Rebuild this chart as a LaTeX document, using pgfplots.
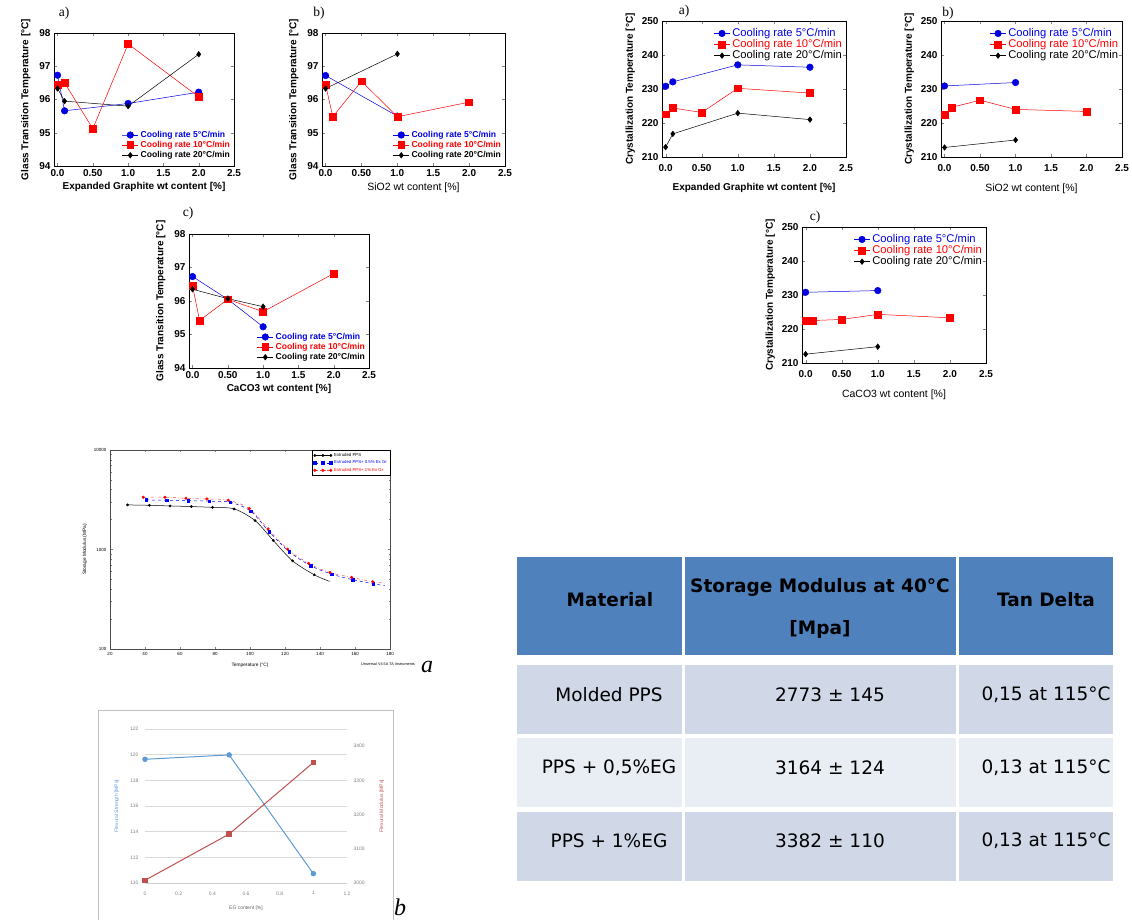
\documentclass[border=0pt]{standalone}
\usepackage{pgfplots}
\pgfplotsset{compat=1.18}
\usepackage{fontspec}
\setmainfont{Liberation Sans}
\newfontfamily\timesf{Liberation Serif}
\newfontfamily\tabf{DejaVu Sans}
\definecolor{cblue}{RGB}{0,0,225}
\definecolor{cred}{RGB}{255,0,0}
\definecolor{eblue}{RGB}{91,155,213}
\definecolor{ered}{RGB}{192,80,77}
\definecolor{hdr}{RGB}{79,129,189}
\definecolor{rowa}{RGB}{208,216,232}
\definecolor{rowb}{RGB}{233,237,244}
\pgfplotsset{
 panel/.style={anchor=south west, scale only axis, xmin=-0.05, xmax=2.5,
   xtick={0,0.5,1,1.5,2,2.5}, xticklabels={0.0,0.50,1.0,1.5,2.0,2.5},
   /pgf/number format/assume math mode=true,
   tick label style={font=\bfseries\fontsize{10}{11}\selectfont},
   label style={font=\bfseries\fontsize{10}{11}\selectfont},
   xlabel style={yshift=1pt},
   major tick length=3pt, axis line style={line width=0.5pt},
   legend cell align=left,
   legend image code/.code={\draw[##1,mark repeat=2,mark phase=2] plot coordinates {(0pt,0pt)(8pt,0pt)(16pt,0pt)};},
 },
 tg/.style={panel, ymin=94, ymax=98, ytick={94,95,96,97,98}, ylabel={Glass Transition Temperature [°C]},
   ylabel style={yshift=2pt},
   legend style={draw=none, fill=none, at={(rel axis cs:0.99,0.035)}, anchor=south east, font=\bfseries\fontsize{8.6}{9.5}\selectfont, inner sep=0pt, row sep=-1.6pt}},
 cr/.style={panel, ymin=210, ymax=250, ytick={210,220,230,240,250}, ylabel={Crystallization Temperature [°C]},
   xticklabel style={yshift=-4pt}, xlabel style={yshift=-6pt},
   legend style={draw=none, fill=none, at={(rel axis cs:0.99,0.96)}, anchor=north east, font=\fontsize{11.2}{12}\selectfont, inner sep=0pt, row sep=-2.5pt}},
 s5/.style={cblue, line width=0.5pt, mark=*, mark size=3.3pt},
 s10/.style={cred, line width=0.5pt, mark=square*, mark size=3.4pt},
 s20/.style={black, line width=0.5pt, mark=diamond*, mark size=2.8pt},
 dmaleg/.style={legend image code/.code={\draw[##1,mark repeat=2,mark phase=2] plot coordinates {(0pt,0pt)(8pt,0pt)(16pt,0pt)};}},
}
\newcommand{\tgleg}{\addlegendentry{\textcolor{cblue}{Cooling rate 5°C/min}}\addlegendentry{\textcolor{cred}{Cooling rate 10°C/min}}\addlegendentry{Cooling rate 20°C/min}}
\begin{document}
\begin{tikzpicture}[x=1pt,y=1pt]
\path[use as bounding box] (0,0) rectangle (1132,919);

% ---------- Tg a
\begin{axis}[tg, at={(54pt,753pt)}, width=180pt, height=133pt, xlabel={Expanded Graphite wt content [\%]}]
\addplot[s5] coordinates {(0,96.73)(0.1,95.66)(1,95.88)(2,96.22)};
\addplot[s10] coordinates {(0,96.45)(0.1,96.5)(0.5,95.12)(1,97.67)(2,96.08)};
\addplot[s20] coordinates {(0,96.33)(0.1,95.95)(1,95.8)(2,97.36)};
\tgleg
\end{axis}
% ---------- Tg b
\begin{axis}[tg, at={(322pt,753pt)}, width=183pt, height=133pt, xlabel={SiO2 wt content [\%]}, xlabel style={font=\fontsize{10.5}{11}\selectfont}]
\addplot[s5] coordinates {(0,96.72)(1,95.5)};
\addplot[s10] coordinates {(0,96.45)(0.1,95.48)(0.5,96.55)(1,95.48)(2,95.92)};
\addplot[s20] coordinates {(0,96.33)(1,97.37)};
\tgleg
\end{axis}
% ---------- Tg c
\begin{axis}[tg, at={(189pt,551pt)}, width=180pt, height=134pt, xlabel={CaCO3 wt content [\%]}]
\addplot[s5] coordinates {(0,96.73)(0.5,96.05)(1,95.23)};
\addplot[s10] coordinates {(0,96.45)(0.1,95.42)(0.5,96.05)(1,95.68)(2,96.82)};
\addplot[s20] coordinates {(0,96.35)(0.5,96.07)(1,95.83)};
\tgleg
\end{axis}
% ---------- Cr a
\begin{axis}[cr, at={(662pt,762pt)}, width=184pt, height=136pt, xlabel={Expanded Graphite wt content [\%]}]
\addplot[s5] coordinates {(0,230.8)(0.1,232.1)(1,237.1)(2,236.4)};
\addplot[s10] coordinates {(0,222.6)(0.1,224.4)(0.5,223.1)(1,230.2)(2,228.8)};
\addplot[s20] coordinates {(0,212.9)(0.1,216.8)(1,222.9)(2,221.0)};
\tgleg
\end{axis}
% ---------- Cr b
\begin{axis}[cr, at={(941pt,762pt)}, width=181pt, height=136pt, xlabel={SiO2 wt content [\%]}, xlabel style={font=\fontsize{10.5}{11}\selectfont}]
\addplot[s5] coordinates {(0,230.9)(1,231.9)};
\addplot[s10] coordinates {(0,222.5)(0.1,224.6)(0.5,226.7)(1,224.0)(2,223.4)};
\addplot[s20] coordinates {(0,212.8)(1,215.0)};
\tgleg
\end{axis}
% ---------- Cr c
\begin{axis}[cr, at={(802pt,556pt)}, width=184pt, height=136pt, xlabel={CaCO3 wt content [\%]}, xlabel style={font=\fontsize{10.5}{11}\selectfont}]
\addplot[s5] coordinates {(0,230.8)(1,231.3)};
\addplot[s10] coordinates {(0,222.5)(0.1,222.5)(0.5,222.8)(1,224.3)(2,223.3)};
\addplot[s20] coordinates {(0,212.6)(1,214.8)};
\tgleg
\end{axis}

\begin{scope}[every node/.style={font=\timesf\fontsize{13.5}{14}\selectfont}]
\node at (64,906) {a)};
\node at (319,906) {b)};
\node at (188,706) {c)};
\node at (684,908) {a)};
\node at (948,906) {b)};
\node at (815,702) {c)};
\end{scope}

% ---------- DMA
\begin{axis}[dmaleg, anchor=south west, at={(110pt,270pt)}, scale only axis, width=280pt, height=199pt,
  ymode=log, ymin=100, ymax=10000, xmin=20, xmax=180, xtick={20,40,...,180},
  ytick={100,1000,10000}, yticklabels={100,1000,10000},
  /pgf/number format/assume math mode=true,
  tick label style={font=\fontsize{4.5}{5}\selectfont},
  label style={font=\fontsize{4.8}{5}\selectfont},
  major tick length=2.5pt, minor tick length=1.5pt,
  axis line style={line width=0.4pt, black!70},
  xlabel={Temperature (°C)}, ylabel={Storage Modulus (MPa)},
  legend cell align=left,
  legend style={at={(rel axis cs:1,1)}, anchor=north east, draw=black, line width=0.3pt, font=\fontsize{4.3}{4.8}\selectfont, inner sep=1pt, row sep=-1.2pt}]
\addplot[black, line width=0.5pt, smooth, mark=*, mark size=1.1pt, mark indices={1,...,10}] coordinates {
(30,2806)(42.5,2780)(54.3,2740)(66.5,2700)(78.6,2650)(90.9,2558)(102.9,1954)(113.3,1232)(124.3,770)(136.7,557)(145.5,478)};
\addlegendentry{Extruded PPS}
\addplot[blue, line width=0.5pt, dashed, smooth, mark=square*, mark size=1.2pt, mark options={solid}, mark indices={1,...,12}] coordinates {
(40.6,3148)(52.4,3125)(64.6,3100)(76.6,3058)(88.6,2987)(100.4,2427)(111.0,1505)(122.5,948)(134.7,686)(146.7,566)(158.7,497)(170.5,453)(177,432)};
\addlegendentry{\textcolor{blue}{Extruded PPS+ 0.5\% Ex Gr}}
\addplot[red!70, line width=0.5pt, dash dot, smooth, mark=*, mark size=1.3pt, mark options={solid,fill=red,draw=red}, mark indices={1,...,12}] coordinates {
(39.0,3350)(51.4,3350)(63.4,3273)(75.4,3223)(87.6,3125)(99.6,2577)(110.3,1611)(121.5,1007)(133.5,724)(145.7,588)(158.1,524)(170.1,474)(177,459)};
\addlegendentry{\textcolor{red}{Extruded PPS+ 1\% Ex Gr}}
\end{axis}
\node[font=\fontsize{3.8}{4}\selectfont] at (388,255) {Universal V4.5A TA Instruments};
\node[font=\timesf\itshape\fontsize{24}{26}\selectfont] at (427,252) {a};

% ---------- Flexural (b)
\draw[gray!50, line width=0.6pt] (98,-2) rectangle (393,209);
\begin{axis}[anchor=south west, at={(145pt,36pt)}, scale only axis, width=202pt, height=154pt,
  xmin=0, xmax=1.2, ymin=110, ymax=122,
  xtick={0,0.2,0.4,0.6,0.8,1,1.2}, xticklabels={0,0.2,0.4,0.6,0.8,1,1.2},
  ytick={110,112,114,116,118,120,122}, yticklabels={110,112,114,116,118,120,122},
  ymajorgrids, grid style={gray!30, line width=0.5pt},
  axis y line*=left, axis x line*=bottom,
  y axis line style={draw=none}, x axis line style={gray!40, -},
  major tick length=0pt,
  tick label style={font=\fontsize{5}{6}\selectfont, gray},
  xticklabel style={yshift=-5pt},
  yticklabel style={xshift=-3pt},
  xlabel={EG content [\%]}, xlabel style={font=\fontsize{5}{6}\selectfont, gray!80!black, yshift=-4pt},
  ylabel={Flexural Strength [MPa]}, ylabel style={font=\fontsize{5}{6}\selectfont, eblue, yshift=4pt}]
\addplot[eblue, line width=1pt, mark=*, mark size=2.2pt] coordinates {(0,119.64)(0.5,119.98)(1,110.73)};
\end{axis}
\begin{axis}[anchor=south west, at={(145pt,36pt)}, scale only axis, width=202pt, height=154pt,
  xmin=0, xmax=1.2, ymin=3000, ymax=3450,
  ytick={3000,3100,3200,3300,3400}, yticklabels={3000,3100,3200,3300,3400},
  axis y line*=right, axis x line=none, y axis line style={draw=none}, major tick length=0pt,
  tick label style={font=\fontsize{5}{6}\selectfont, gray},
  yticklabel style={xshift=3pt},
  ylabel={Flexural Modulus [MPa]}, ylabel style={font=\fontsize{5}{6}\selectfont, ered, yshift=-8pt}]
\addplot[ered, line width=1pt, mark=square*, mark size=2.2pt] coordinates {(0,3008)(0.5,3143)(1,3352)};
\end{axis}
\node[font=\timesf\itshape\fontsize{24}{26}\selectfont] at (400,12) {b};

% ---------- Table
\fill[hdr] (517,264) rectangle (682,362);
\fill[hdr] (685,264) rectangle (956,362);
\fill[hdr] (959,264) rectangle (1113,362);
\fill[rowa] (517,185) rectangle (682,254);
\fill[rowa] (685,185) rectangle (956,254);
\fill[rowa] (959,185) rectangle (1113,254);
\fill[rowb] (517,112) rectangle (682,181);
\fill[rowb] (685,112) rectangle (956,181);
\fill[rowb] (959,112) rectangle (1113,181);
\fill[rowa] (517,38) rectangle (682,107);
\fill[rowa] (685,38) rectangle (956,107);
\fill[rowa] (959,38) rectangle (1113,107);
\begin{scope}[every node/.style={font=\tabf\fontsize{18.5}{20}\selectfont, inner sep=0pt}]
\node[font=\tabf\bfseries\fontsize{18.5}{20}\selectfont] at (610,319) {Material};
\node[font=\tabf\bfseries\fontsize{18.5}{20}\selectfont] at (820,332) {Storage Modulus at 40°C};
\node[font=\tabf\bfseries\fontsize{18.5}{20}\selectfont] at (820,290) {[Mpa]};
\node[font=\tabf\bfseries\fontsize{18.5}{20}\selectfont] at (1046,319) {Tan Delta};
\node at (609,224) {Molded PPS};
\node at (609,151) {PPS + 0,5\%EG};
\node at (609,78) {PPS + 1\%EG};
\node at (830,224) {2773 ± 145};
\node at (830,151) {3164 ± 124};
\node at (830,78) {3382 ± 110};
\node at (1046,224) {0,15 at 115°C};
\node at (1046,151) {0,13 at 115°C};
\node at (1046,78) {0,13 at 115°C};
\end{scope}
\end{tikzpicture}
\end{document}
